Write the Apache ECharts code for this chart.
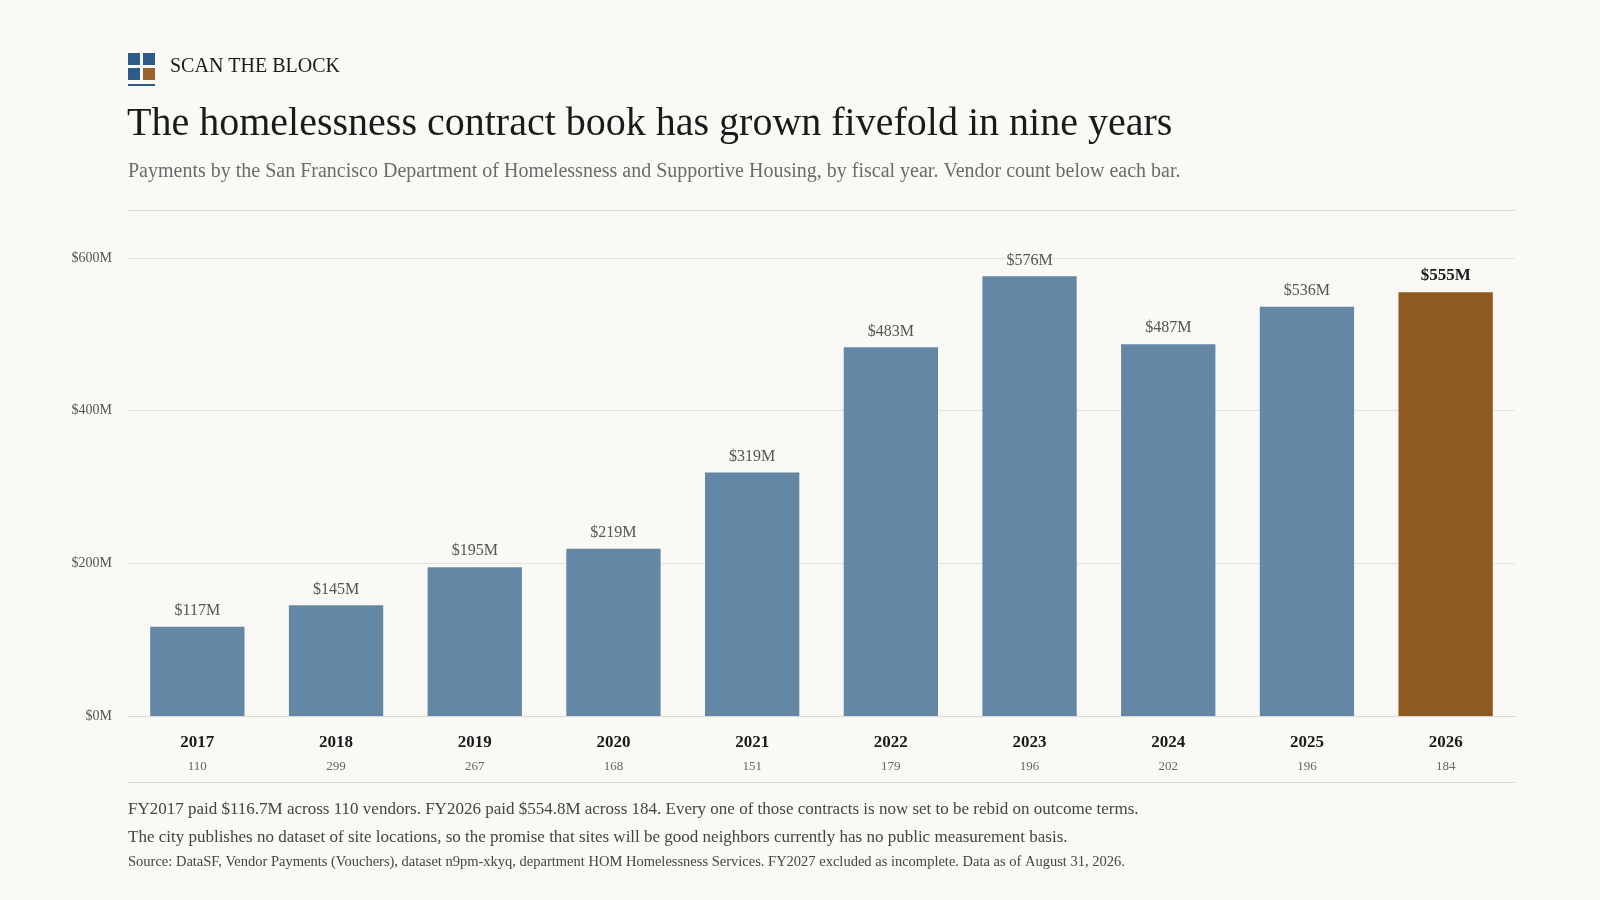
<!DOCTYPE html>
<html><head><meta charset="utf-8">
<script src="https://cdn.jsdelivr.net/npm/echarts@6/dist/echarts.min.js"></script>
<style>html,body{margin:0;padding:0;background:#fbf9f5;}#c{width:1600px;height:900px;}</style>
</head><body><div id="c"></div>
<script>
const years = ['2017','2018','2019','2020','2021','2022','2023','2024','2025','2026'];
const payments = [117,145,195,219,319,483,576,487,536,555];
const vendors = [110,299,267,168,151,179,196,202,196,184];
const yTicks = [0,200,400,600];

const F = '"Liberation Serif","DejaVu Serif",serif';
const chart = echarts.init(document.getElementById('c'));
const last = years.length-1;
chart.setOption({
  backgroundColor:'#fbf9f5',
  graphic:[
    {type:'rect',shape:{x:128,y:53,width:12,height:12},style:{fill:'#2d5c8a'}},
    {type:'rect',shape:{x:143,y:53,width:12,height:12},style:{fill:'#2d5c8a'}},
    {type:'rect',shape:{x:128,y:68,width:12,height:12},style:{fill:'#2d5c8a'}},
    {type:'rect',shape:{x:143,y:68,width:12,height:12},style:{fill:'#99622a'}},
    {type:'rect',shape:{x:128,y:84,width:27,height:2},style:{fill:'#2d5c8a'}},
    {type:'text',left:170,top:57,style:{text:'SCAN THE BLOCK',font:'20px '+F,fill:'#1a1a1a',letterSpacing:1.5}},
    {type:'text',left:127,top:104,style:{text:'The homelessness contract book has grown fivefold in nine years',font:'40px '+F,fill:'#1a1a1a'}},
    {type:'text',left:128,top:162,style:{text:'Payments by the San Francisco Department of Homelessness and Supportive Housing, by fiscal year. Vendor count below each bar.',font:'20px '+F,fill:'#6b6b6b'}},
    {type:'rect',shape:{x:128,y:210,width:1387,height:1},style:{fill:'#dcdad5'}},
    {type:'rect',shape:{x:128,y:782,width:1387,height:1},style:{fill:'#dcdad5'}},
    {type:'text',left:128,top:801,style:{text:'FY2017 paid $116.7M across 110 vendors. FY2026 paid $554.8M across 184. Every one of those contracts is now set to be rebid on outcome terms.',font:'17px '+F,fill:'#444'}},
    {type:'text',left:128,top:829,style:{text:'The city publishes no dataset of site locations, so the promise that sites will be good neighbors currently has no public measurement basis.',font:'17px '+F,fill:'#444'}},
    {type:'text',left:128,top:855,style:{text:'Source: DataSF, Vendor Payments (Vouchers), dataset n9pm-xkyq, department HOM Homelessness Services. FY2027 excluded as incomplete. Data as of August 31, 2026.',font:'14.5px '+F,fill:'#444'}}
  ],
  grid:{left:128,right:85,top:258,height:458},
  xAxis:{type:'category',data:years,axisLine:{show:true,lineStyle:{color:'#dcdad5'}},axisTick:{show:false},
    axisLabel:{margin:14,formatter:(v,i)=>'{y|'+v+'}\n{v|'+vendors[i]+'}',
      rich:{y:{fontFamily:F,fontSize:17,color:'#1a1a1a',fontWeight:'bold',lineHeight:26},v:{fontFamily:F,fontSize:13,color:'#666',lineHeight:22}}}},
  yAxis:{type:'value',min:0,max:600,interval:200,
    axisLabel:{formatter:v=>yTicks.includes(v)?'$'+v+'M':'',fontFamily:F,fontSize:14,color:'#555',margin:16},
    splitLine:{lineStyle:{color:'#e4e2dd'}},axisLine:{show:false},axisTick:{show:false}},
  series:[{type:'bar',barWidth:'68%',
    data:payments.map((v,i)=>({value:v,itemStyle:{color:i===last?'#8f5a20':'#6487a5'},
      label:{fontWeight:i===last?'bold':'normal',color:i===last?'#1a1a1a':'#555',fontSize:i===last?17:16}})),
    label:{show:true,position:'top',distance:8,fontFamily:F,formatter:p=>'$'+p.value+'M'}}]
});
</script></body></html>
